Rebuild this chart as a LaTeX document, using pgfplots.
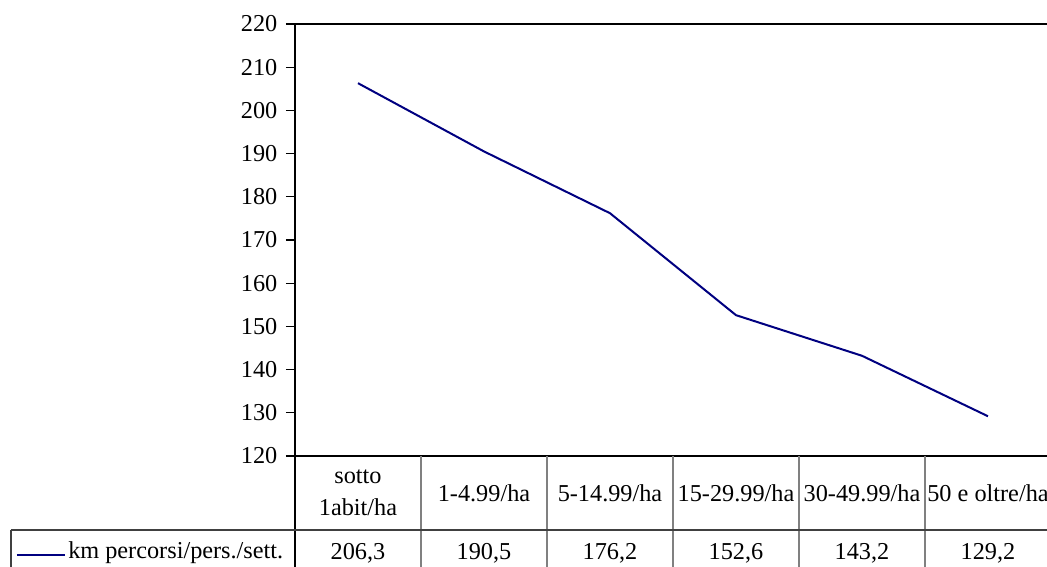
\documentclass[border=0pt]{standalone}
\usepackage{pgfplots}
\pgfplotsset{compat=1.18}
\usepackage{fontspec}
\setmainfont{Liberation Serif}
\definecolor{navyline}{RGB}{0,0,128}
\definecolor{tabline}{RGB}{128,128,128}
\newcommand{\chf}{\fontsize{18.2}{24}\selectfont}
\begin{document}
\begin{tikzpicture}[x=0.75pt,y=0.75pt]
\clip (-295,-111) rectangle (752,456);
\begin{axis}[
  at={(0,0)}, anchor=south west,
  scale only axis, width=567pt, height=324pt,
  xmin=-0.5, xmax=5.5, ymin=120, ymax=220,
  xtick=\empty,
  ytick={120,130,...,220},
  ytick pos=left,
  tick align=outside,
  major tick length=6.75pt,
  axis line style={black, line width=0.8pt},
  every tick/.style={black, line width=0.8pt},
  yticklabel style={font=\chf, xshift=-3pt},
  /pgf/number format/assume math mode=true,
]
\addplot[color=navyline, line width=1.5pt] coordinates {
  (0,206.3) (1,190.5) (2,176.2) (3,152.6) (4,143.2) (5,129.2)
};
\end{axis}
% data table
\draw[black, line width=0.8pt] (0,0) -- (0,-120);
\foreach \k in {1,...,5} {
  \draw[tabline, line width=0.8pt] (126*\k,0) -- (126*\k,-120);
}
\draw[black!75, line width=0.8pt] (-284,-74) -- (760,-74);
\draw[black!75, line width=0.8pt] (-284,-74) -- (-284,-120);
\node[font=\chf, align=center] at (63,-37) {sotto\\1abit/ha};
\node[font=\chf] at (189,-37) {1-4.99/ha};
\node[font=\chf] at (315,-37) {5-14.99/ha};
\node[font=\chf] at (441,-37) {15-29.99/ha};
\node[font=\chf] at (567,-37) {30-49.99/ha};
\node[font=\chf] at (693,-37) {50 e oltre/ha};
\node[font=\chf] at (63,-97) {206,3};
\node[font=\chf] at (189,-97) {190,5};
\node[font=\chf] at (315,-97) {176,2};
\node[font=\chf] at (441,-97) {152,6};
\node[font=\chf] at (567,-97) {143,2};
\node[font=\chf] at (693,-97) {129,2};
\draw[navyline, line width=1.5pt] (-278,-99) -- (-230,-99);
\node[font=\chf, anchor=west, inner sep=0pt] at (-227,-97) {km percorsi/pers./sett.};
\end{tikzpicture}
\end{document}
